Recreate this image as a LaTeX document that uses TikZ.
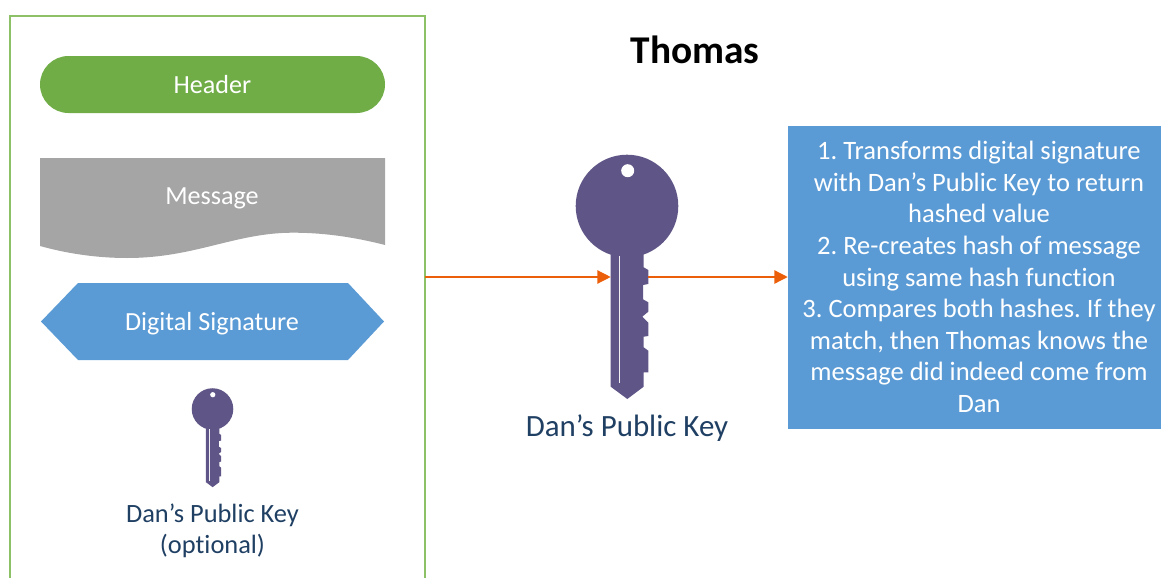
\documentclass[tikz,border=0pt]{standalone}
\usepackage{fontspec}
\setmainfont{Carlito}[Ligatures=NoCommon]
\usepackage{xcolor}
\usetikzlibrary{arrows.meta}
\definecolor{framegreen}{HTML}{8CC168}
\definecolor{headgreen}{HTML}{70AD47}
\definecolor{msggray}{HTML}{A5A5A5}
\definecolor{sigblue}{HTML}{5B9BD5}
\definecolor{keypurple}{HTML}{5F5586}
\definecolor{labelblue}{HTML}{1F3F63}
\definecolor{arroworange}{HTML}{EC5F0A}
\frenchspacing
\tikzset{
  shapetext/.style={text=white, inner sep=0pt, font=\fontsize{19.6}{23.7}\selectfont},
  keylabel/.style={text=labelblue, inner sep=0pt, align=center, font=\fontsize{19.8}{23.4}\selectfont},
  flow/.style={arroworange, line width=1pt, -{Triangle[length=10pt,width=10pt]}},
  keypic/.pic={
    \fill[keypurple] (0,0) circle (51.3);
    \fill[keypurple] (16.7,40) -- (16.7,61.3) -- (21.3,64) -- (21.3,78) -- (16,79) -- (16,93.3)
      -- (21.3,96.3) -- (21.3,105.7) -- (15.3,110.7) -- (21.3,116.7) -- (21.3,130) -- (16.7,130.7)
      -- (16.7,141.3) -- (21.3,144.7) -- (21.3,166.3) -- (16.7,166.3) -- (16.7,180.7)
      -- (0.3,193) -- (-16.3,180.7) -- (-16.3,40) -- cycle;
    \fill[white] (0.7,-35.3) circle (6.5);
    \fill[white!90!keypurple] (-8,50) rectangle (-6.6,176.7);
    \coordinate (-west) at (-16.3,71);
    \coordinate (-east) at (21.3,71);
  }
}
\begin{document}
\begin{tikzpicture}[x=0.75pt,y=-0.75pt]
\useasboundingbox (0,0) rectangle (1161,578);
\draw[framegreen, line width=1.1pt] (10,578) -- (10,16) -- (425,16) -- (425,578);
\coordinate (frameout) at (425,277);
\node[fill=headgreen, rounded corners=21.37pt, minimum width=258.75pt, minimum height=42.75pt] (header) at (212.5,84.5) {};
\node[shapetext] (headertext) at (212.5,85) {Header};
\fill[msggray] (40,158) -- (385,158) -- (385,245)
  .. controls (350,236) and (320,232.7) .. (293,232.7)
  .. controls (235,232.7) and (195,258) .. (127,258)
  .. controls (95,258) and (65,253) .. (40,246) -- cycle;
\node[shapetext] (message) at (212,198) {Message};
\fill[sigblue] (41,321.5) -- (78,283) -- (348,283) -- (384,321.5) -- (348,360) -- (78,360) -- cycle;
\node[shapetext] (signature) at (212,323.5) {Digital Signature};
\pic (smallkey) [scale=0.405] at (212.5,409) {keypic};
\node[keylabel] (smalllabel) at (212.5,531) {Dan’s Public Key\\(optional)};
\node[font=\fontsize{29.5}{34}\selectfont\bfseries, inner sep=0pt] (title) at (695,50) {Thomas};
\pic (bigkey) at (627,206) {keypic};
\node[keylabel, font=\fontsize{23.2}{28}\selectfont] (biglabel) at (627,428) {Dan’s Public Key};
\node[fill=sigblue, minimum width=279.75pt, minimum height=227.25pt, inner sep=0pt] (steps) at (974.5,277) {};
\node[align=center, text=white, inner sep=0pt, font=\fontsize{19.9}{23.7}\selectfont] (stepstext) at (979,277) {1. Transforms digital signature\\with Dan’s Public Key to return\\hashed value\\2. Re-creates hash of message\\using same hash function\\3. Compares both hashes. If they\\match, then Thomas knows the\\message did indeed come from\\Dan};
\draw[flow] (frameout) -- (bigkey-west);
\draw[flow] (bigkey-east) -- (steps.west);
\end{tikzpicture}
\end{document}
